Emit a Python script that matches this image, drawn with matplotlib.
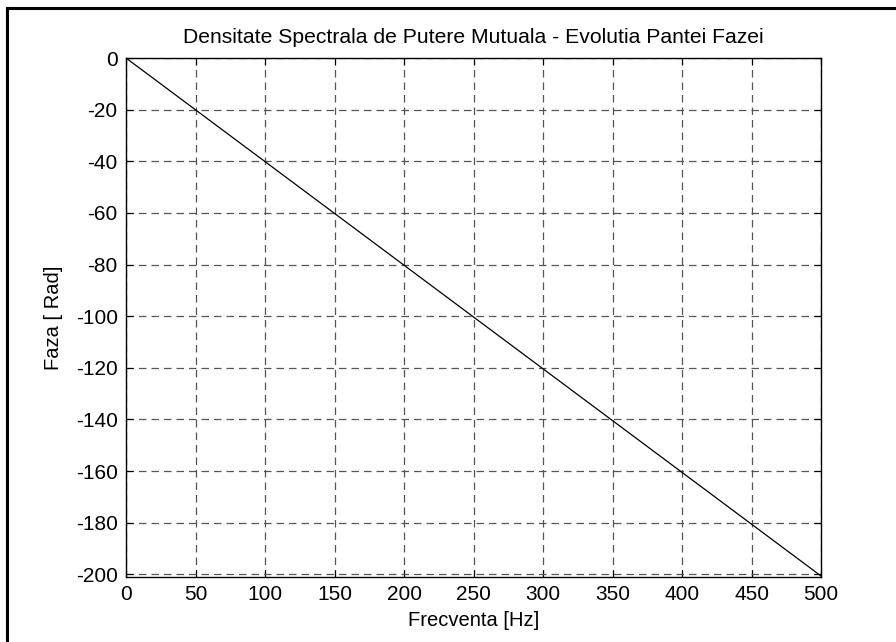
import matplotlib
matplotlib.use("Agg")
import matplotlib.pyplot as plt
from matplotlib.lines import Line2D

plt.rcParams['font.family'] = ['Liberation Sans', 'DejaVu Sans']
plt.rcParams['axes.unicode_minus'] = False

# Phase slope of the cross spectral density
freq_hz = [0, 50, 100, 150, 200, 250, 300, 350, 400, 450, 500]
phase_rad = [0, -20.06, -40.12, -60.18, -80.24, -100.3, -120.36, -140.42, -160.48, -180.54, -200.6]
x_ticks = [0, 50, 100, 150, 200, 250, 300, 350, 400, 450, 500]
y_ticks = [0, -20, -40, -60, -80, -100, -120, -140, -160, -180, -200]

title = "Densitate Spectrala de Putere Mutuala - Evolutia Pantei Fazei"
x_label = "Frecventa [Hz]"
y_label = "Faza [ Rad]"

fig = plt.figure(figsize=(8.96, 6.42), dpi=100)
fig.patch.set_facecolor("white")
ax = fig.add_axes([126 / 896, 1 - 577 / 642, (821 - 126) / 896, (577 - 58) / 642])

ax.plot(freq_hz, phase_rad, color="black", linewidth=0.9)

ax.set_xlim(0, 500)
ax.set_ylim(-201, 0)
ax.set_xticks(x_ticks)
ax.set_yticks(y_ticks)
ax.grid(True, color="#555555", linestyle=(0, (6, 4)), linewidth=0.9)
ax.set_axisbelow(True)

for s in ax.spines.values():
    s.set_linewidth(1.0)
    s.set_color("black")

ax.tick_params(direction="in", length=5, width=0.8, top=True, right=True,
               labelsize=15, colors="black")
ax.tick_params(axis="y", pad=6)
ax.tick_params(axis="x", pad=6)

ax.set_title(title, fontsize=15.2, pad=11)
ax.set_xlabel(x_label, fontsize=14.5, labelpad=5)
ax.set_ylabel(y_label, fontsize=14.5, labelpad=9)

# Outer frame on the left and top edges
fig.add_artist(Line2D([7 / 896, 7 / 896], [0, 1 - 8 / 642], transform=fig.transFigure,
                      color="black", linewidth=2.2))
fig.add_artist(Line2D([7 / 896, 1], [1 - 8 / 642, 1 - 8 / 642], transform=fig.transFigure,
                      color="black", linewidth=2.2))

fig.savefig("out.png", dpi=100)
